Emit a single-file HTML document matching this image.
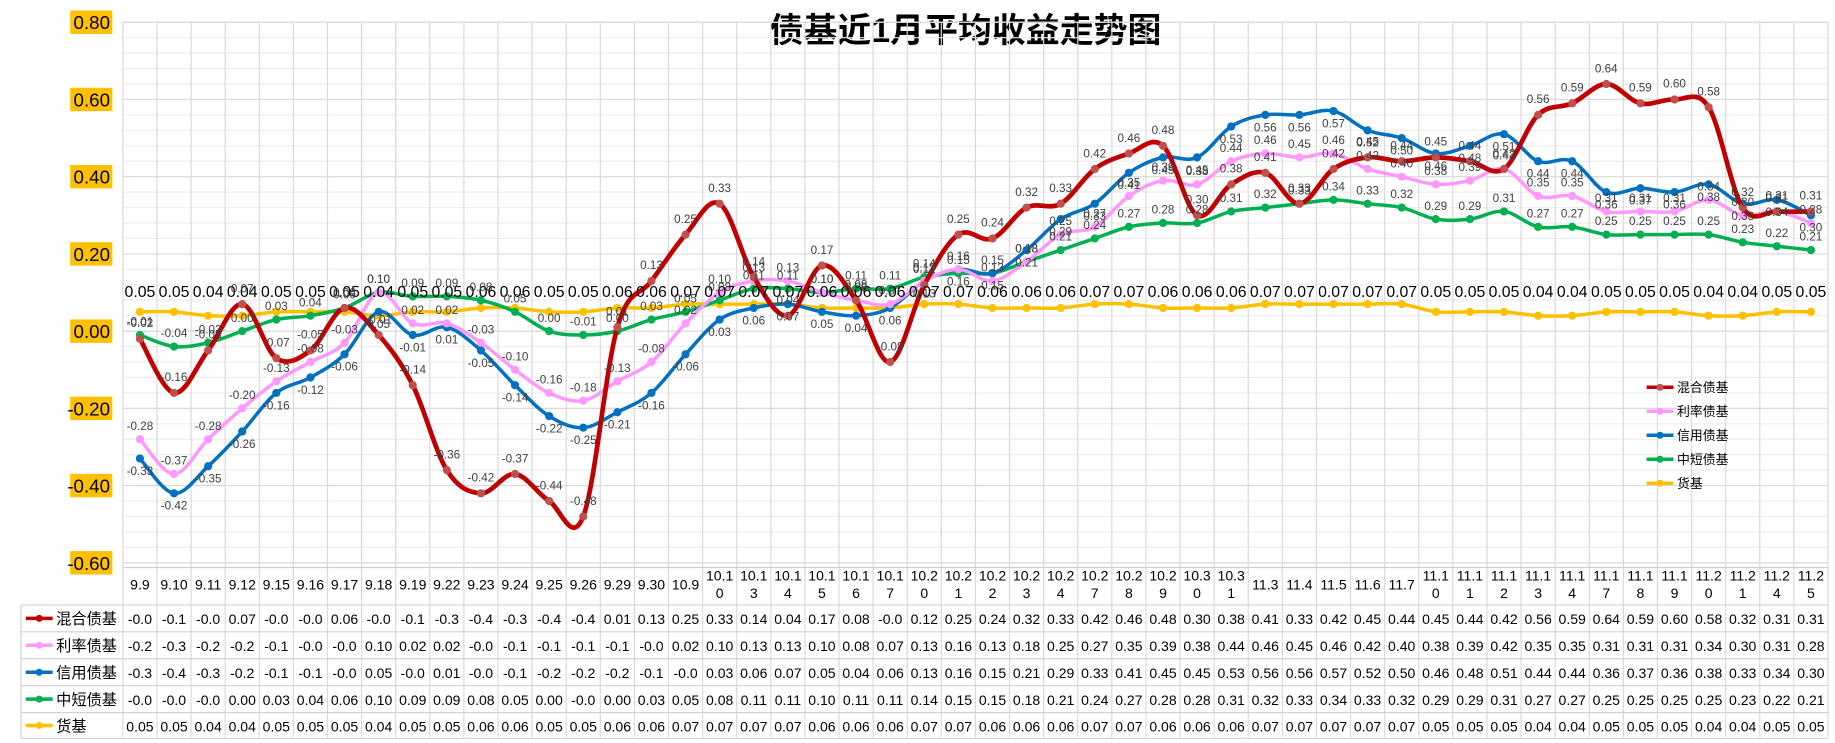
<!DOCTYPE html>
<html><head><meta charset="utf-8">
<style>
body{margin:0;background:#fff;}
svg{display:block;}
svg text{font-family:"Liberation Sans","Noto Sans CJK SC",sans-serif;}
</style></head>
<body>
<svg id="chart" width="1835" height="743" viewBox="0 0 1568 635" preserveAspectRatio="none" xmlns="http://www.w3.org/2000/svg">
<rect width="1568" height="635" fill="#fff"/>
<text x="825" y="36" text-anchor="middle" font-size="29" font-weight="bold" fill="#000">债基近1月平均收益走势图</text>
<g id="grid"></g><g id="axis"></g><g id="series"></g><g id="labels"></g><g id="table"></g><g id="legend"></g>
</svg>
<script>
const categories=["9.9","9.10","9.11","9.12","9.15","9.16","9.17","9.18","9.19","9.22","9.23","9.24","9.25","9.26","9.29","9.30","10.9","10.10","10.13","10.14","10.15","10.16","10.17","10.20","10.21","10.22","10.23","10.24","10.27","10.28","10.29","10.30","10.31","11.3","11.4","11.5","11.6","11.7","11.10","11.11","11.12","11.13","11.14","11.17","11.18","11.19","11.20","11.21","11.24","11.25"];
const mixed=[-0.02,-0.16,-0.05,0.07,-0.07,-0.05,0.06,-0.01,-0.14,-0.36,-0.42,-0.37,-0.44,-0.48,0.01,0.13,0.25,0.33,0.14,0.04,0.17,0.08,-0.08,0.12,0.25,0.24,0.32,0.33,0.42,0.46,0.48,0.30,0.38,0.41,0.33,0.42,0.45,0.44,0.45,0.44,0.42,0.56,0.59,0.64,0.59,0.60,0.58,0.32,0.31,0.31];
const rate=[-0.28,-0.37,-0.28,-0.20,-0.13,-0.08,-0.03,0.10,0.02,0.02,-0.03,-0.10,-0.16,-0.18,-0.13,-0.08,0.02,0.10,0.13,0.13,0.10,0.08,0.07,0.13,0.16,0.13,0.18,0.25,0.27,0.35,0.39,0.38,0.44,0.46,0.45,0.46,0.42,0.40,0.38,0.39,0.42,0.35,0.35,0.31,0.31,0.31,0.34,0.30,0.31,0.28];
const credit=[-0.33,-0.42,-0.35,-0.26,-0.16,-0.12,-0.06,0.05,-0.01,0.01,-0.05,-0.14,-0.22,-0.25,-0.21,-0.16,-0.06,0.03,0.06,0.07,0.05,0.04,0.06,0.13,0.16,0.15,0.21,0.29,0.33,0.41,0.45,0.45,0.53,0.56,0.56,0.57,0.52,0.50,0.46,0.48,0.51,0.44,0.44,0.36,0.37,0.36,0.38,0.33,0.34,0.30];
const shortTerm=[-0.01,-0.04,-0.03,0.00,0.03,0.04,0.06,0.10,0.09,0.09,0.08,0.05,0.00,-0.01,0.00,0.03,0.05,0.08,0.11,0.11,0.10,0.11,0.11,0.14,0.15,0.15,0.18,0.21,0.24,0.27,0.28,0.28,0.31,0.32,0.33,0.34,0.33,0.32,0.29,0.29,0.31,0.27,0.27,0.25,0.25,0.25,0.25,0.23,0.22,0.21];
const money=[0.05,0.05,0.04,0.04,0.05,0.05,0.05,0.04,0.05,0.05,0.06,0.06,0.05,0.05,0.06,0.06,0.07,0.07,0.07,0.07,0.06,0.06,0.06,0.07,0.07,0.06,0.06,0.06,0.07,0.07,0.06,0.06,0.06,0.07,0.07,0.07,0.07,0.07,0.05,0.05,0.05,0.04,0.04,0.05,0.05,0.05,0.04,0.04,0.05,0.05];
const yTicks=[0.8,0.6,0.4,0.2,0,-0.2,-0.4,-0.6];
const seriesNames=["混合债基","利率债基","信用债基","中短债基","货基"];

const NS="http://www.w3.org/2000/svg";
const X0=105, CW=29.14, N=categories.length;
const xS=i=>X0+CW*(i+0.5);
const yS=v=>283-v*330;
function mk(p,tag,attrs){const e=document.createElementNS(NS,tag);for(const k in attrs)e.setAttribute(k,attrs[k]);p.appendChild(e);return e;}
const G=id=>document.getElementById(id);

const grid=G('grid');
for(let v=-0.6;v<=0.801;v+=0.04){
  const ln=mk(grid,'line',{x1:X0,x2:X0+CW*N,y1:yS(v),y2:yS(v),stroke:'#eeeeee','stroke-width':1});
  
}
yTicks.forEach(v=>{
  const ln=mk(grid,'line',{x1:X0,x2:X0+CW*N,y1:yS(v),y2:yS(v),stroke:'#d9d9d9','stroke-width':1});
  
});
for(let i=0;i<=N;i++){
  const ln=mk(grid,'line',{x1:X0+CW*i,x2:X0+CW*i,y1:yS(0.8),y2:630,stroke:'#d9d9d9','stroke-width':1});
  
}
const ax=G('axis');
yTicks.forEach(v=>{
  const y=yS(v);
  const r=mk(ax,'rect',{x:60,y:y-10,width:36,height:20,fill:'#FFC000'});
  
  const t=mk(ax,'text',{x:94,y:y+6,'text-anchor':'end','font-size':16,fill:'#000'});
  t.textContent=v.toFixed(2);
  
});

function smoothPath(vals){
  const p=vals.map((v,i)=>[xS(i),yS(v)]);
  let d='M'+p[0][0]+','+p[0][1];
  for(let i=0;i<p.length-1;i++){
    const p0=p[i-1]||p[i],p1=p[i],p2=p[i+1],p3=p[i+2]||p2;
    const t=0.17;
    const c1=[p1[0]+(p2[0]-p0[0])*t,p1[1]+(p2[1]-p0[1])*t];
    const c2=[p2[0]-(p3[0]-p1[0])*t,p2[1]-(p3[1]-p1[1])*t];
    d+=`C${c1[0]},${c1[1]} ${c2[0]},${c2[1]} ${p2[0]},${p2[1]}`;
  }
  return d;
}
const defs=[
 {name:'money',vals:money,color:'#FFC000',w:3,mk:'#FFC000',r:3.5,lab:'#000',fs:13.5,off:-13},
 {name:'short-term',vals:shortTerm,color:'#00B050',w:3,mk:'#00B050',r:3.5,lab:'#404040',fs:10,off:-8},
 {name:'credit',vals:credit,color:'#0070C0',w:3,mk:'#0070C0',r:3.5,lab:'#404040',fs:10,off:14},
 {name:'rate',vals:rate,color:'#FF99FF',w:3,mk:'#FF99FF',r:3.5,lab:'#404040',fs:10,off:-8},
 {name:'mixed',vals:mixed,color:'#C00000',w:4,mk:'#C0504D',r:3.5,lab:'#404040',fs:10,off:-10}
];
const sg=G('series'),lg=G('labels');
defs.forEach(s=>{
  const g=mk(sg,'g',{});
  
  const path=mk(g,'path',{d:smoothPath(s.vals),fill:'none',stroke:s.color,'stroke-width':s.w});
  
  s.vals.forEach((v,i)=>{
    const c=mk(g,'circle',{cx:xS(i),cy:yS(v),r:s.r,fill:s.mk});
    
    const ty= s.name==='money'? 254 : yS(v)+s.off;
    const t=mk(lg,'text',{x:xS(i),y:ty,'text-anchor':'middle','font-size':s.fs,fill:s.lab});
    t.textContent=v.toFixed(2);
    
  });
});

const tb=G('table');
const rowsTop=[485,517,540,563,586,609,631];
[517,540,563,586,609,631].forEach(y=>{
  const ln=mk(tb,'line',{x1:18,x2:X0+CW*N,y1:y,y2:y,stroke:'#d0d0d0','stroke-width':1});
  
});
const ln0=mk(tb,'line',{x1:X0,x2:X0+CW*N,y1:485,y2:485,stroke:'#d0d0d0','stroke-width':1});

const ln1=mk(tb,'line',{x1:18,x2:18,y1:517,y2:631,stroke:'#d0d0d0','stroke-width':1});

categories.forEach((c,i)=>{
  if(c.length>4){
    const t1=mk(tb,'text',{x:xS(i),y:496,'text-anchor':'middle','font-size':12,fill:'#000'});t1.textContent=c.slice(0,4);
    
    const t2=mk(tb,'text',{x:xS(i),y:511,'text-anchor':'middle','font-size':12,fill:'#000'});t2.textContent=c.slice(4);
    
  }else{
    const t=mk(tb,'text',{x:xS(i),y:504,'text-anchor':'middle','font-size':12,fill:'#000'});t.textContent=c;
    
  }
});
const tableSeries=[mixed,rate,credit,shortTerm,money];
const tableColors=['#C00000','#FF99FF','#0070C0','#00B050','#FFC000'];
tableSeries.forEach((vals,r)=>{
  const yc=(rowsTop[r+1]+rowsTop[r+2])/2;
  const key=mk(tb,'line',{x1:22,x2:45,y1:yc,y2:yc,stroke:tableColors[r],'stroke-width':3});
  
  const kc=mk(tb,'circle',{cx:33.5,cy:yc,r:3,fill:tableColors[r]});
  
  const nt=mk(tb,'text',{x:48,y:yc+5,'font-size':13,fill:'#000'});nt.textContent=seriesNames[r];
  
  vals.forEach((v,i)=>{
    const t=mk(tb,'text',{x:xS(i),y:yc+5,'text-anchor':'middle','font-size':12,fill:'#000'});
    t.textContent=v.toFixed(2).slice(0,4);
    
  });
});

const lgd=G('legend');
[['#C00000','#C0504D'],['#FF99FF','#FF99FF'],['#0070C0','#0070C0'],['#00B050','#00B050'],['#FFC000','#FFC000']].forEach((c,k)=>{
  const y=331+k*20.5;
  const g=mk(lgd,'g',{});
  
  mk(g,'line',{x1:1407,x2:1430,y1:y,y2:y,stroke:c[0],'stroke-width':3});
  mk(g,'circle',{cx:1418.5,cy:y,r:3,fill:c[1]});
  const t=mk(g,'text',{x:1433,y:y+4,'font-size':11,fill:'#000'});t.textContent=seriesNames[k];
});
</script>
</body></html>
